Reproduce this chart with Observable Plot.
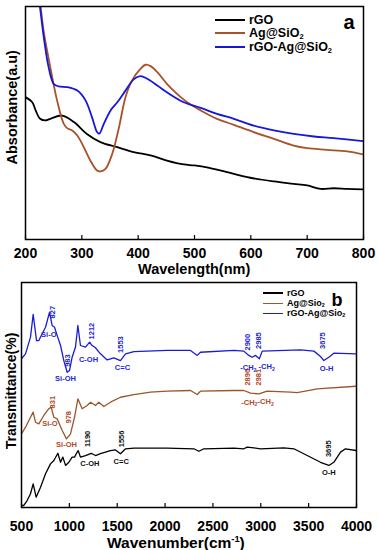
<!DOCTYPE html>
<html><head><meta charset="utf-8">
<script src="https://cdn.jsdelivr.net/npm/d3@7"></script>
<script src="https://cdn.jsdelivr.net/npm/@observablehq/plot@0.6"></script>
<style>
body{margin:0;background:#fff;}
#wrap{position:relative;width:378px;height:550px;overflow:hidden;font-family:"Liberation Sans",Arial,sans-serif;font-weight:bold;color:#000;}
.abs{position:absolute;white-space:nowrap;line-height:1;}
.pl{position:absolute;left:0;}
sub{font-size:0.6em;vertical-align:-0.2em;line-height:0;}
sup{font-size:0.6em;vertical-align:0.6em;line-height:0;}
</style></head><body><div id="wrap"></div>
<script>
// ---------- Panel a: UV-Vis ----------
const uvTicks = [200, 300, 400, 500, 600, 700, 800];
const uvSeries = ["rGO", "Ag@SiO2", "rGO-Ag@SiO2"];
const uvColors = ["#000000", "#a8522a", "#1616dc"];
const uvRgoWl  = [200,212,218,226,235,244,265,286,309,333,363,392,422,451,481,499,522,558,599,641,676,700,724,747,771,800];
const uvRgoAbs = [0.611,0.589,0.554,0.518,0.511,0.518,0.532,0.504,0.453,0.418,0.396,0.375,0.361,0.339,0.322,0.318,0.310,0.289,0.265,0.249,0.239,0.232,0.217,0.220,0.217,0.215];
const uvAgWl  = [222,226.6,232.5,244,256,268,274,283,292,303.5,315,327,333,342,354,366,377.5,389,404,413,422,434,451,469,487,511,540,570,605,641,676,700,735,771,800];
const uvAgAbs = [1.09,1.004,0.890,0.740,0.597,0.496,0.478,0.468,0.446,0.396,0.339,0.296,0.292,0.303,0.368,0.482,0.611,0.682,0.732,0.750,0.744,0.718,0.668,0.625,0.589,0.554,0.518,0.492,0.461,0.432,0.403,0.392,0.385,0.378,0.365];
const uvMixWl  = [222,225.4,232.5,241,250,259,274,292,306.5,318,327,331,339,351,363,377.5,392,404,416,434,451,481,511,540,570,605,641,676,712,747,800];
const uvMixAbs = [1.07,1.004,0.868,0.740,0.668,0.657,0.654,0.639,0.597,0.525,0.461,0.454,0.496,0.554,0.589,0.639,0.687,0.701,0.690,0.661,0.632,0.589,0.565,0.539,0.518,0.489,0.468,0.453,0.442,0.435,0.422];

// ---------- Panel b: FTIR ----------
const irTicks = [500, 1000, 1500, 2000, 2500, 3000, 3500, 4000];
const irSeries = ["rGO", "Ag@Sio2", "rGO-Ag@Sio2"];
const irColors = ["#000000", "#9a562c", "#1c1cd4"];
const irMixWn = [500,542,594,622,657,681,716,751,793,820,845,873,908,942,977,1002,1029,1064,1089,1116,1169,1212,1235,1273,1325,1395,1465,1534,1587,1674,2022,2266,2336,2370,2719,2823,2875,2910,2945,2985,3015,3415,3555,3624,3659,3711,3763,4000];
const irMixT  = [0.661,0.683,0.757,0.858,0.742,0.742,0.772,0.801,0.868,0.809,0.801,0.764,0.720,0.653,0.601,0.609,0.668,0.713,0.809,0.720,0.713,0.735,0.721,0.710,0.683,0.656,0.665,0.653,0.683,0.693,0.698,0.698,0.676,0.690,0.698,0.695,0.676,0.668,0.676,0.661,0.695,0.701,0.695,0.671,0.653,0.668,0.686,0.683];
const irAgWn = [500,542,594,622,646,681,733,786,810,838,873,925,970,1012,1054,1089,1134,1186,1221,1273,1308,1360,1430,1534,1674,1848,2022,2266,2336,2370,2719,2823,2893,2980,3067,3311,3380,3590,4000];
const irAgT  = [0.327,0.357,0.401,0.424,0.379,0.372,0.409,0.439,0.446,0.401,0.394,0.342,0.305,0.327,0.401,0.483,0.439,0.453,0.468,0.453,0.468,0.449,0.468,0.490,0.502,0.513,0.517,0.520,0.502,0.517,0.520,0.520,0.508,0.505,0.517,0.513,0.511,0.527,0.539];
const irRgoWn = [500,524,559,594,622,653,699,751,803,838,880,908,932,960,995,1029,1054,1075,1092,1116,1169,1228,1273,1325,1430,1482,1534,1587,1674,2022,2301,2353,2405,2719,2823,2858,2928,2997,3241,3346,3485,3624,3711,3763,3833,3885,4000];
const irRgoT  = [0.009,0.009,0.031,0.061,0.105,0.046,0.090,0.150,0.194,0.209,0.241,0.201,0.224,0.187,0.201,0.224,0.224,0.241,0.253,0.224,0.231,0.241,0.231,0.239,0.253,0.256,0.239,0.261,0.264,0.264,0.261,0.250,0.261,0.264,0.261,0.268,0.265,0.261,0.265,0.261,0.231,0.201,0.187,0.201,0.246,0.261,0.253];

// peak numbers (rotated) and group labels
const peakText   = ["827","983","1212","1553","2900","2985","3675","831","978","2896","2981","1190","1556","3695"];
const peakWn     = [821,981,1228,1534,2858,2977,3642,821,994,2858,2981,1193,1542,3711];
const peakT      = [0.868,0.653,0.784,0.724,0.735,0.742,0.742,0.468,0.401,0.579,0.579,0.305,0.305,0.261];
const peakSeries = [2,2,2,2,2,2,2,1,1,1,1,0,0,0];
const groupText   = ["Si-O","Si-OH","C-OH","C=C","-CH_2 -CH_2","O-H","Si-O","Si-OH","-CH_2-CH_2","C-OH","C=C","O-H"];
const groupWn     = [785,960,1200,1555,2966,3687,796,970,2966,1214,1542,3711];
const groupT      = [0.769,0.573,0.658,0.624,0.622,0.618,0.375,0.280,0.468,0.197,0.206,0.157];
const groupSeries = [2,2,2,2,2,2,1,1,1,0,0,0];
const labelColors = ["#111111", "#b3482a", "#2424d0"];

const FONT = '"Liberation Sans", Arial, sans-serif';
const wrap = document.getElementById("wrap");

function rows(xs, ys, s) { return xs.map((x, i) => ({x, y: ys[i], series: s})); }
function subify(svg) {
  d3.select(svg).selectAll("text").each(function () {
    const txt = this.textContent;
    if (!txt.includes("_")) return;
    this.textContent = "";
    const parts = txt.split(/_(\d)/);
    parts.forEach((p, i) => {
      if (p === "") return;
      const ts = document.createElementNS("http://www.w3.org/2000/svg", "tspan");
      ts.textContent = p;
      if (i % 2 === 1) { ts.setAttribute("font-size", "0.7em"); ts.setAttribute("dy", "0.3em"); }
      else if (i > 0) { ts.setAttribute("dy", "-0.3em"); }
      this.appendChild(ts);
    });
  });
}

// ---------- plot a ----------
const uvData = [
  ...rows(uvRgoWl, uvRgoAbs, uvSeries[0]),
  ...rows(uvAgWl, uvAgAbs, uvSeries[1]),
  ...rows(uvMixWl, uvMixAbs, uvSeries[2])
];
const plotA = Plot.plot({
  width: 378, height: 280,
  marginLeft: 25, marginRight: 15, marginTop: 6, marginBottom: 41,
  x: {domain: [200, 800]},
  y: {domain: [0, 1], axis: null},
  color: {domain: uvSeries, range: uvColors},
  style: {fontFamily: FONT, fontWeight: "bold", fontSize: "14px", color: "#000", background: "transparent"},
  marks: [
    Plot.line(uvData, {x: "x", y: "y", z: "series", stroke: "series", curve: "catmull-rom", strokeWidth: 1.8, clip: true}),
    Plot.tickX(uvTicks, {x: d => d, insetTop: 229, stroke: "#000", strokeWidth: 1.2}),
    Plot.axisX(uvTicks, {tickSize: 0, tickPadding: 9, label: null, fontSize: 14, tickFormat: d => String(d)}),
    Plot.frame({stroke: "#000", strokeWidth: 1.5})
  ]
});
plotA.classList.add("pl"); plotA.style.top = "0px";
wrap.appendChild(plotA);

// ---------- plot b ----------
const irData = [
  ...rows(irRgoWn, irRgoT, irSeries[0]),
  ...rows(irAgWn, irAgT, irSeries[1]),
  ...rows(irMixWn, irMixT, irSeries[2])
];
const peaks = peakText.map((t, i) => ({t, x: peakWn[i], y: peakT[i], c: labelColors[peakSeries[i]]}));
const groups = groupText.map((t, i) => ({t, x: groupWn[i], y: groupT[i], c: labelColors[groupSeries[i]]}));
const plotB = Plot.plot({
  width: 378, height: 270,
  marginLeft: 21, marginRight: 22, marginTop: 2, marginBottom: 43,
  x: {domain: [500, 4000]},
  y: {domain: [0, 1], axis: null},
  color: {domain: irSeries, range: irColors},
  style: {fontFamily: FONT, fontWeight: "bold", fontSize: "14px", color: "#000", background: "transparent"},
  marks: [
    Plot.line(irData, {x: "x", y: "y", z: "series", stroke: "series", strokeWidth: 1.3, clip: true}),
    Plot.text(peaks, {x: "x", y: "y", text: "t", fill: "c", rotate: -90, fontSize: 7.5, fontWeight: "bold"}),
    Plot.text(groups, {x: "x", y: "y", text: "t", fill: "c", fontSize: 7.5, fontWeight: "bold"}),
    Plot.tickX(irTicks, {x: d => d, insetTop: 221, stroke: "#000", strokeWidth: 1.2}),
    Plot.axisX(irTicks, {tickSize: 0, tickPadding: 14, label: null, fontSize: 14, tickFormat: d => String(d)}),
    Plot.frame({stroke: "#000", strokeWidth: 1.5})
  ]
});
subify(plotB);
plotB.classList.add("pl"); plotB.style.top = "280px";
wrap.appendChild(plotB);

// ---------- titles & legends (HTML) ----------
function addText(html, cx, cy, size, opts = {}) {
  const d = document.createElement("div");
  d.className = "abs";
  d.innerHTML = html;
  d.style.fontSize = size + "px";
  if (opts.lh) d.style.lineHeight = opts.lh;
  d.style.color = opts.color || "#000";
  wrap.appendChild(d);
  const w = d.offsetWidth, h = d.offsetHeight;
  if (opts.left != null) { d.style.left = opts.left + "px"; }
  else d.style.left = (cx - w / 2) + "px";
  d.style.top = (cy - h / 2) + "px";
  if (opts.rotate) d.style.transform = "rotate(-90deg)";
  return d;
}
function addSwatch(x1, x2, y, color, w) {
  const d = document.createElement("div");
  d.style.position = "absolute";
  d.style.left = x1 + "px"; d.style.width = (x2 - x1) + "px";
  d.style.top = (y - w / 2) + "px"; d.style.height = w + "px";
  d.style.background = color;
  wrap.appendChild(d);
}
addText("Wavelength(nm)", 194, 269.5, 14.5);
addText("Absorbance(a.u)", 12, 107, 14.5, {rotate: true});
addText("Wavenumber(cm<sup>-1</sup>)", 176, 543, 15.5, {lh: 0.9});
addText("Transmittance(%)", 11, 391, 14, {rotate: true});

const legA = ["rGO", "Ag@SiO<sub>2</sub>", "rGO-Ag@SiO<sub>2</sub>"];
const legAY = [20, 33, 47];
legA.forEach((t, i) => { addSwatch(215, 245, legAY[i], uvColors[i], 1.8); addText(t, 0, legAY[i], 12.5, {left: 249}); });
addText("a", 349, 22, 20);

const legB = ["rGO", "Ag@Sio<sub>2</sub>", "rGO-Ag@Sio<sub>2</sub>"];
const legBY = [293, 303.3, 313.3];
legB.forEach((t, i) => { addSwatch(263, 283, legBY[i], irColors[i], 1.2); addText(t, 0, legBY[i], 9, {left: 287, lh: 0.9}); });
addText("b", 337, 300.5, 18, {lh: 0.7});
</script></body></html>
